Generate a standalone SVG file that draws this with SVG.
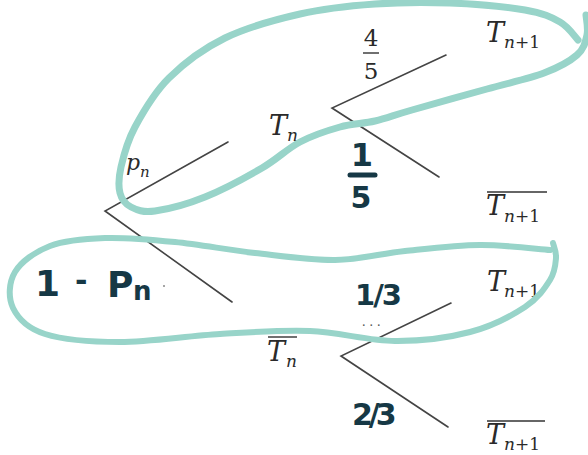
<svg xmlns="http://www.w3.org/2000/svg" width="588" height="455" viewBox="0 0 588 455">
<style>
.br{stroke:#444;stroke-width:1.6;fill:none;stroke-linecap:round}
.lb{font-family:"DejaVu Serif",serif;font-style:italic;fill:#2a2a2a}
.up{font-style:normal}
.ov{stroke:#333;stroke-width:1.4}
.hl{fill:none;stroke:#98d4c9;stroke-linecap:round;stroke-linejoin:round}
.hw{font-family:"DejaVu Sans",sans-serif;font-weight:bold;fill:#163845}
</style>
<rect width="588" height="455" fill="#fff"/>
<g id="connectors">
<path class="br" d="M228,142 L105,211 L232,302"/>
<path class="br" d="M446,55 L332,108 L439,177"/>
<path class="br" d="M451,303 L341,356 L448,427"/>
</g>
<g id="root-upper-label"><text class="lb" x="126" y="170" font-size="22">p</text><text class="lb" x="140" y="177" font-size="15">n</text></g>
<g id="node-Tn"><text class="lb" x="269" y="135" font-size="27">T</text><text class="lb" x="287" y="141" font-size="17">n</text></g>
<g id="node-Tn-bar"><line class="ov" x1="268" y1="337" x2="297" y2="337"/><text class="lb" x="267" y="361" font-size="27">T</text><text class="lb" x="286" y="367" font-size="17">n</text></g>
<g id="frac-4-5"><text class="lb up" x="371" y="46" font-size="23" text-anchor="middle">4</text><line class="ov" x1="363" y1="53" x2="379" y2="53"/><text class="lb up" x="371" y="79" font-size="23" text-anchor="middle">5</text></g>
<g id="node-Tn1-a"><text class="lb" x="486" y="42" font-size="27">T</text><text class="lb" x="504" y="48" font-size="17">n<tspan class="up">+1</tspan></text></g>
<g id="node-Tn1-b"><line class="ov" x1="487" y1="192" x2="547" y2="192"/><text class="lb" x="486" y="215" font-size="27">T</text><text class="lb" x="504" y="222" font-size="17">n<tspan class="up">+1</tspan></text></g>
<g id="node-Tn1-c"><text class="lb" x="487" y="291" font-size="27">T</text><text class="lb" x="504" y="297" font-size="17">n<tspan class="up">+1</tspan></text></g>
<g id="node-Tn1-d"><line class="ov" x1="487" y1="421" x2="545" y2="421"/><text class="lb" x="486" y="444" font-size="27">T</text><text class="lb" x="504" y="450" font-size="17">n<tspan class="up">+1</tspan></text></g>
<g id="dots"><text x="362" y="326" font-family="Liberation Serif,serif" font-size="14" fill="#555" letter-spacing="4">...</text><circle cx="164" cy="286" r="1" fill="#888"/></g>
<g id="highlight-top">
<path class="hl" stroke-width="7" d="M578,40 C575,37 568.8,27 560,22 C551.2,17 543.3,13.2 525,10 C506.7,6.8 475,4 450,3 C425,2 400,2.2 375,4 C350,5.8 325,8.3 300,14 C275,19.7 246.8,27.3 225,38 C203.2,48.7 184,63.2 169,78 C154,92.8 143,112.2 135,127 C127,141.8 123.5,156 121,167 C118.5,178 118.3,186.3 120,193 C121.7,199.7 125.2,204 131,207 C136.8,210 142.7,212.7 155,211 C167.3,209.3 187.2,204.2 205,197 C222.8,189.8 246.2,177.2 262,168 C277.8,158.8 287,148.8 300,142 C313,135.2 327.5,130.5 340,127 C352.5,123.5 363,123.8 375,121 C387,118.2 393.3,115.3 412,110 C430.7,104.7 465,95.2 487,89 C509,82.8 529,78.7 544,73 C559,67.3 569.8,61.3 577,55 C584.2,48.7 585.5,41.7 587,35 C588.5,28.3 586.2,18.3 586,15"/>
</g>
<g id="highlight-bottom">
<path class="hl" stroke-width="6" d="M550,250 C538.3,249.2 504.2,244.8 480,245 C455.8,245.2 429.2,248.5 405,251 C380.8,253.5 360,259.7 335,260 C310,260.3 281.7,256 255,253 C228.3,250 200,244.5 175,242 C150,239.5 125.8,237.3 105,238 C84.2,238.7 65,240.3 50,246 C35,251.7 21.2,261.7 15,272 C8.8,282.3 8,297.7 13,308 C18,318.3 27.2,328.3 45,334 C62.8,339.7 90.8,342 120,342 C149.2,342 188.3,335.8 220,334 C251.7,332.2 280.8,329.8 310,331 C339.2,332.2 368.3,340.8 395,341 C421.7,341.2 448.3,337.7 470,332 C491.7,326.3 511.7,315.7 525,307 C538.3,298.3 544.8,288.2 550,280 C555.2,271.8 555.5,264.2 556,258 C556.5,251.8 553.5,245.5 553,243"/>
</g>
<g id="hand-1-pn"><text class="hw" y="296" font-size="36"><tspan x="35">1</tspan><tspan x="75" y="291" font-size="30">-</tspan><tspan x="107" y="297">P</tspan><tspan x="133" y="300" font-size="26">n</tspan></text></g>
<g id="hand-1-5"><text class="hw" x="362" y="166" font-size="32" text-anchor="middle">1</text><line x1="350" y1="175" x2="375" y2="175" stroke="#163845" stroke-width="5" stroke-linecap="round"/><text class="hw" x="361" y="208" font-size="30" text-anchor="middle">5</text></g>
<g id="hand-1-3"><text class="hw" x="355" y="305" font-size="29" letter-spacing="-2">1/3</text></g>
<g id="hand-2-3"><text class="hw" x="352" y="425" font-size="30" letter-spacing="-4">2/3</text></g>
</svg>
